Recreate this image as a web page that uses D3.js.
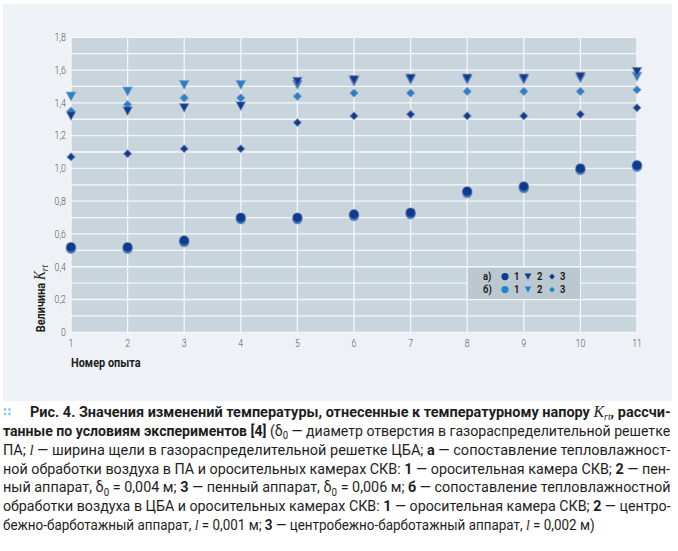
<!DOCTYPE html>
<html>
<head>
<meta charset="utf-8">
<script src="https://cdn.jsdelivr.net/npm/d3@7"></script>
<style>
  body { margin: 0; background: #fff; }
  svg { display: block; }
</style>
</head>
<body>
<div id="chart"></div>
<script>
// experiment numbers and tick values
var trials = [1, 2, 3, 4, 5, 6, 7, 8, 9, 10, 11];
var yTicks = [0, 0.2, 0.4, 0.6, 0.8, 1.0, 1.2, 1.4, 1.6, 1.8];
var yGrid = [0, 0.1, 0.2, 0.3, 0.4, 0.5, 0.6, 0.7, 0.8, 0.9, 1.0, 1.1, 1.2, 1.3, 1.4, 1.5, 1.6, 1.7, 1.8];

// а) ПА vs СКВ
var a1 = [0.52, 0.52, 0.56, 0.70, 0.70, 0.72, 0.73, 0.86, 0.89, 1.00, 1.02];
var a2 = [1.32, 1.35, 1.37, 1.38, 1.53, 1.54, 1.55, 1.55, 1.55, 1.56, 1.59];
var a3 = [1.07, 1.09, 1.12, 1.12, 1.28, 1.32, 1.33, 1.32, 1.32, 1.33, 1.37];
// б) ЦБА vs СКВ
var b1 = [0.51, 0.51, 0.55, 0.69, 0.69, 0.71, 0.72, 0.85, 0.88, 0.99, 1.01];
var b2 = [1.44, 1.47, 1.51, 1.51, 1.51, 1.53, 1.54, 1.54, 1.54, 1.55, 1.56];
var b3 = [1.35, 1.39, 1.43, 1.43, 1.44, 1.46, 1.46, 1.47, 1.47, 1.47, 1.48];

var DARK = "#0c3c8e", LIGHT = "#1b88cb";
var SANS = "Roboto,'Liberation Sans',sans-serif";
var SERIF = "'Liberation Serif','DejaVu Serif',serif";
var NARROW = 0.84;   // horizontal squeeze to imitate the condensed face

var series = [
    {values: b1, shape: "circle", color: LIGHT},
    {values: b3, shape: "diamond", color: LIGHT},
    {values: b2, shape: "triangle", color: LIGHT},
    {values: a1, shape: "circle", color: DARK},
    {values: a3, shape: "diamond", color: DARK},
    {values: a2, shape: "triangle", color: DARK}
];

var W = 678, H = 551;
var plot = {left: 71, right: 637, top: 37.3, bottom: 332.3};

var svg = d3.select("#chart").append("svg")
    .attr("width", W)
    .attr("height", H);

// outer panel
svg.append("rect")
    .attr("x", 3).attr("y", 4)
    .attr("width", 669).attr("height", 397)
    .attr("fill", "#eef2f6");

var x = d3.scaleLinear().domain([1, 11]).range([plot.left, plot.right]);
var y = d3.scaleLinear().domain([0, 1.8]).range([plot.bottom, plot.top]);

svg.append("rect")
    .attr("x", plot.left).attr("y", plot.top)
    .attr("width", plot.right - plot.left)
    .attr("height", plot.bottom - plot.top)
    .attr("fill", "#c9d5dd");

// grid
svg.append("g").selectAll("line")
    .data(yGrid)
  .enter().append("line")
    .attr("x1", plot.left).attr("x2", plot.right)
    .attr("y1", function(d) { return y(d); })
    .attr("y2", function(d) { return y(d); })
    .attr("stroke", "#f4f7f9")
    .attr("stroke-width", 1.3);

svg.append("g").selectAll("line")
    .data(trials)
  .enter().append("line")
    .attr("x1", function(d) { return x(d); })
    .attr("x2", function(d) { return x(d); })
    .attr("y1", plot.top).attr("y2", plot.bottom + 3)
    .attr("stroke", "#f4f7f9")
    .attr("stroke-width", 1.3);

// axis labels
svg.append("g").selectAll("text")
    .data(yTicks)
  .enter().append("text")
    .attr("transform", function(d) { return "translate(" + (plot.left - 5) + "," + y(d) + ") scale(0.8,1)"; })
    .attr("dy", "0.35em")
    .attr("text-anchor", "end")
    .style("font-family", SANS)
    .style("font-size", "11px")
    .style("font-weight", 300)
    .style("fill", "#555")
    .text(function(d) { return d === 0 ? "0" : d.toFixed(1).replace(".", ","); });

svg.append("g").selectAll("text")
    .data(trials)
  .enter().append("text")
    .attr("transform", function(d) { return "translate(" + x(d) + "," + (plot.bottom + 15) + ") scale(0.8,1)"; })
    .attr("text-anchor", "middle")
    .style("font-family", SANS)
    .style("font-size", "11px")
    .style("font-weight", 300)
    .style("fill", "#555")
    .text(function(d) { return d; });

svg.append("text")
    .attr("transform", "translate(" + plot.left + ",367) scale(" + NARROW + ",1)")
    .style("font-family", SANS)
    .style("font-size", "13px")
    .style("font-weight", "bold")
    .style("fill", "#1e1e1e")
    .text("Номер опыта");

var ytitle = svg.append("text")
    .attr("transform", "translate(45," + plot.bottom + ") rotate(-90) scale(" + NARROW + ",1)")
    .style("font-family", SANS)
    .style("font-size", "13px")
    .style("font-weight", "bold")
    .style("fill", "#1e1e1e");
ytitle.append("tspan").text("Величина ");
ytitle.append("tspan")
    .style("font-family", SERIF).style("font-style", "italic")
    .style("font-weight", "normal").style("font-size", "16px")
    .text("K");
ytitle.append("tspan")
    .style("font-family", SERIF).style("font-style", "italic")
    .style("font-weight", "normal").style("font-size", "11px")
    .attr("baseline-shift", "-3")
    .text("rt");

// marker shapes
function markerPath(shape, s) {
    if (shape === "circle") {
        return d3.symbol().type(d3.symbolCircle).size(Math.PI * s * s)();
    }
    if (shape === "triangle") {
        var w = s * 1.9, h = s * 1.75;
        return "M" + (-w / 2) + "," + (-h / 2) + "L" + (w / 2) + "," + (-h / 2) + "L0," + (h / 2) + "Z";
    }
    var r = s * 0.82;
    return "M0," + (-r) + "L" + r + ",0L0," + r + "L" + (-r) + ",0Z";
}

series.forEach(function(ser) {
    svg.append("g").selectAll("path")
        .data(ser.values)
      .enter().append("path")
        .attr("transform", function(d, i) { return "translate(" + x(trials[i]) + "," + y(d) + ")"; })
        .attr("d", markerPath(ser.shape, 4.7))
        .attr("fill", ser.color)
        .attr("stroke", "rgba(110,110,170,0.45)")
        .attr("stroke-width", 1.4);
});

// legend
svg.append("rect")
    .attr("x", 468).attr("y", 268)
    .attr("width", 112).attr("height", 31)
    .attr("fill", "#bcc8d0");

var legendRows = [
    {label: "а)", color: DARK, cy: 276.6},
    {label: "б)", color: LIGHT, cy: 289.6}
];
var legendItems = [
    {shape: "circle", num: "1", mx: 505, tx: 514},
    {shape: "triangle", num: "2", mx: 528, tx: 537},
    {shape: "diamond", num: "3", mx: 552, tx: 560}
];

function legendText(px, py, str) {
    svg.append("text")
        .attr("transform", "translate(" + px + "," + py + ") scale(0.9,1)")
        .attr("dy", "0.36em")
        .style("font-family", SANS)
        .style("font-size", "10.5px")
        .style("font-weight", "bold")
        .style("fill", "#1e1e1e")
        .text(str);
}

legendRows.forEach(function(row) {
    legendText(483, row.cy, row.label);
    legendItems.forEach(function(it) {
        svg.append("path")
            .attr("transform", "translate(" + it.mx + "," + row.cy + ")")
            .attr("d", markerPath(it.shape, 3.6))
            .attr("fill", row.color);
        legendText(it.tx, row.cy, it.num);
    });
});

// caption
var captionLines = [
    [["Рис. 4. Значения изменений температуры, отнесенные к температурному напору ", "b"], ["K", "kb"], ["rt", "ksub"], [", рассчи-", "b"]],
    [["танные по условиям экспериментов [4] ", "b"], ["(δ", ""], ["0", "sub"], [" — диаметр отверстия в газораспределительной решетке", ""]],
    [["ПА; ", ""], ["l", "i"], [" — ширина щели в газораспределительной решетке ЦБА; ", ""], ["а", "b"], [" — сопоставление тепловлажност-", ""]],
    [["ной обработки воздуха в ПА и оросительных камерах СКВ: ", ""], ["1", "b"], [" — оросительная камера СКВ; ", ""], ["2", "b"], [" — пен-", ""]],
    [["ный аппарат, δ", ""], ["0", "sub"], [" = 0,004 м; ", ""], ["3", "b"], [" — пенный аппарат, δ", ""], ["0", "sub"], [" = 0,006 м; ", ""], ["б", "b"], [" — сопоставление тепловлажностной", ""]],
    [["обработки воздуха в ЦБА и оросительных камерах СКВ: ", ""], ["1", "b"], [" — оросительная камера СКВ; ", ""], ["2", "b"], [" — центро-", ""]],
    [["бежно-барботажный аппарат, ", ""], ["l", "i"], [" = 0,001 м; ", ""], ["3", "b"], [" — центробежно-барботажный аппарат, ", ""], ["l", "i"], [" = 0,002 м)", ""]]
];

// little "::" mark
[[5, 409.5], [9.5, 409.5], [5, 414], [9.5, 414]].forEach(function(p) {
    svg.append("circle").attr("cx", p[0]).attr("cy", p[1]).attr("r", 1.4).attr("fill", "#8ccaec");
});

var capRight = 671, lastRight = 595;
captionLines.forEach(function(line, li) {
    var x0 = li === 0 ? 30 : 3;
    var by = 417 + li * 18.85;
    var t = svg.append("text")
        .style("font-family", SANS)
        .style("font-size", "15.5px")
        .style("fill", "#1e1e1e");
    line.forEach(function(seg) {
        var ts = t.append("tspan").text(seg[0]);
        if (seg[1] === "b") ts.style("font-weight", "bold");
        if (seg[1] === "i" || seg[1] === "kb") {
            ts.style("font-family", SERIF).style("font-style", "italic");
            if (seg[1] === "kb") ts.style("font-size", "17px");
        }
        if (seg[1] === "sub" || seg[1] === "ksub") {
            ts.style("font-size", "10.5px").attr("baseline-shift", "-3");
            if (seg[1] === "ksub") ts.style("font-family", SERIF).style("font-style", "italic");
        }
    });
    // squeeze each line to the justified width
    var len = t.node().getComputedTextLength();
    var right = li < captionLines.length - 1 ? capRight : lastRight;
    var sx = (right - x0) / len;
    t.attr("transform", "translate(" + x0 + "," + by + ") scale(" + sx + ",1)");
});
</script>
</body>
</html>
